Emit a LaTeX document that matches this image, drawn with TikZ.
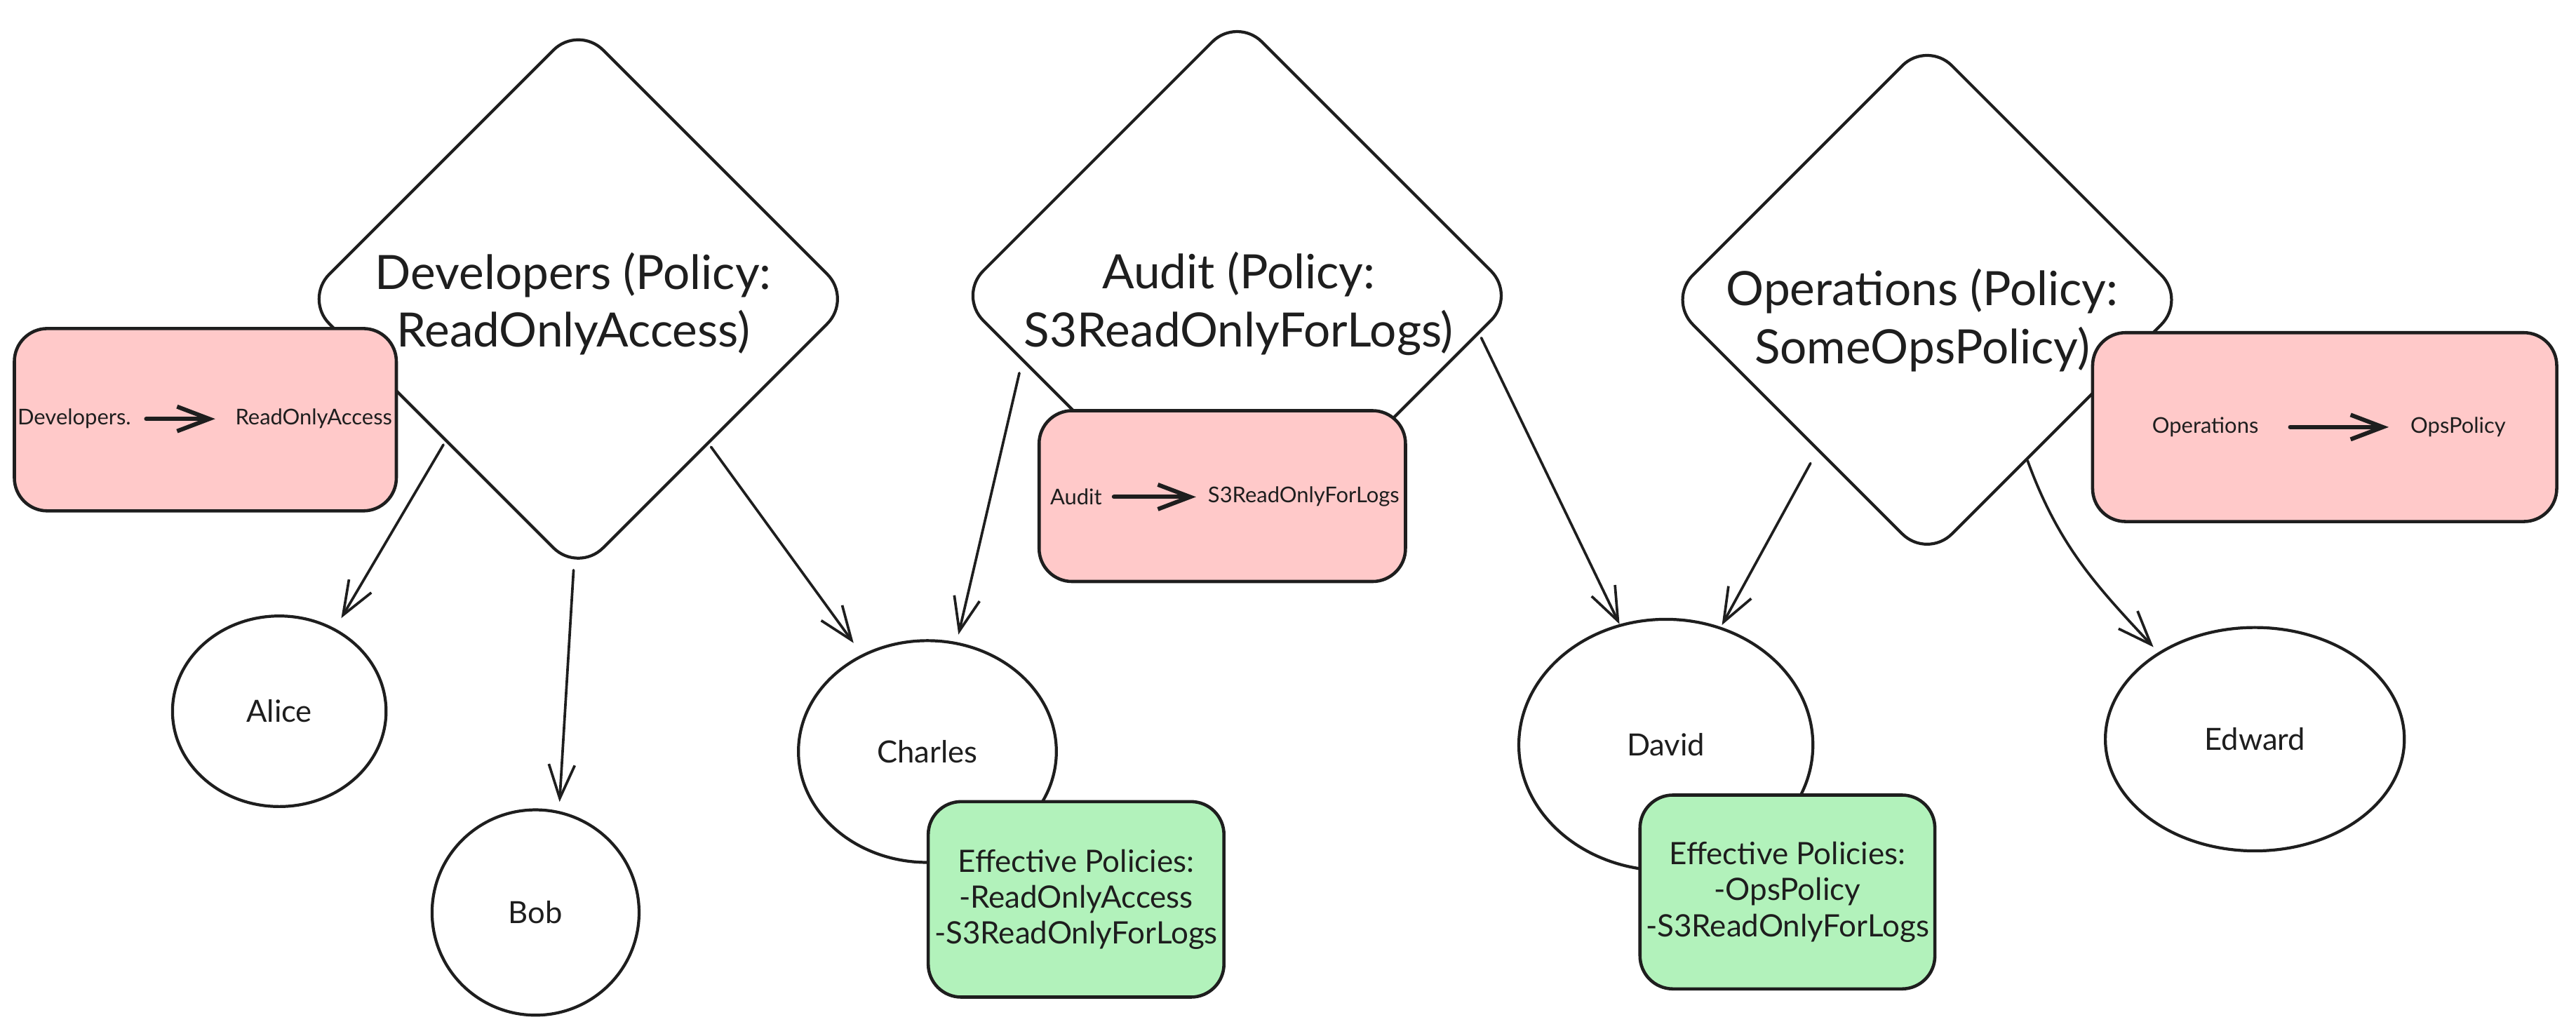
\documentclass[tikz,border=0pt]{standalone}
\usepackage{fontspec}
\setmainfont{Lato}
\usetikzlibrary{shapes.geometric,arrows.meta}
\definecolor{ink}{HTML}{1E1E1E}
\definecolor{pinkfill}{HTML}{FFC9C9}
\definecolor{greenfill}{HTML}{B2F2BB}
\newcommand\uu{0.2342mm}
\begin{document}
\begin{tikzpicture}[x=0.2342mm,y=-0.2342mm,
  grp/.style={diamond, draw=ink, line width=1.2pt, rounded corners=5mm, inner sep=0pt, text=ink},
  grptitle/.style={align=center, inner sep=0pt, text=ink, font=\fontsize{19.2}{23.5}\selectfont},
  user/.style={ellipse, draw=ink, line width=1.2pt, inner sep=0pt, text=ink, font=\fontsize{12.4}{14}\selectfont},
  mapbox/.style={draw=ink, fill=pinkfill, rounded corners=4.7mm, line width=1.3pt, inner sep=0pt},
  maptext/.style={inner sep=0pt, text=ink, font=\fontsize{8.8}{10}\selectfont},
  effbox/.style={draw=ink, fill=greenfill, rounded corners=4.7mm, line width=1.3pt, inner sep=0pt,
    align=center, text=ink, font=\fontsize{12.5}{14.6}\selectfont},
  conn/.style={draw=ink, line width=1.05pt, line cap=round, line join=round,
    -{Straight Barb[length=4.8mm,width=3.7mm,line width=1.05pt]}},
  inarrow/.style={draw=ink, line width=1.7pt, line cap=round, line join=round,
    -{Straight Barb[length=4.6mm,width=3.5mm,line width=1.7pt]}}
]
\fill[white] (0,0) rectangle (1568,626);
\useasboundingbox (0,0) rectangle (1568,626);

% group diamonds
\node[grp, minimum width=334*\uu, minimum height=334*\uu] (dev) at (352,182) {};
\node[grptitle] (devt) at (349,185) {Developers (Policy:\\ReadOnlyAccess)};
\node[grp, minimum width=340*\uu, minimum height=340*\uu] (aud) at (753,180) {};
\node[grptitle] (audt) at (754,185) {Audit (Policy:\\S3ReadOnlyForLogs)};
\node[grp, minimum width=316*\uu, minimum height=316*\uu] (ops) at (1173,182.5) {};
\node[grptitle] (opst) at (1170,195) {Operations (Policy:\\SomeOpsPolicy)};

% users
\node[user, minimum width=130*\uu, minimum height=116*\uu] (alice) at (170,433) {Alice};
\node[user, minimum width=126*\uu, minimum height=125*\uu] (bob) at (326,555.5) {Bob};
\node[user, minimum width=157*\uu, minimum height=135*\uu] (charles) at (564.5,457.5) {Charles};
\node[user, minimum width=179*\uu, minimum height=153*\uu] (david) at (1014,453.5) {David};
\node[user, minimum width=182*\uu, minimum height=136*\uu] (edward) at (1372.5,450) {Edward};

% policy mapping boxes
\node[mapbox, minimum width=232.5*\uu, minimum height=111*\uu] (map1) at (125,255.5) {};
\node[maptext, anchor=east] (m1a) at (80,255) {Developers.};
\node[maptext, anchor=west] (m1b) at (143,255) {ReadOnlyAccess};
\draw[inarrow, shorten <=9*\uu, shorten >=12*\uu] (m1a.east) -- (m1b.west);

\node[mapbox, minimum width=223*\uu, minimum height=104*\uu] (map2) at (744,302) {};
\node[maptext, anchor=east] (m2a) at (671,302.5) {Audit};
\node[maptext, anchor=west] (m2b) at (735,302.5) {S3ReadOnlyForLogs};
\draw[inarrow, shorten <=7*\uu, shorten >=7*\uu] (m2a.east) -- (m2b.west);

\node[mapbox, minimum width=282.5*\uu, minimum height=115*\uu] (map3) at (1415,260) {};
\node[maptext, anchor=east] (m3a) at (1375,260) {Operations};
\node[maptext, anchor=west] (m3b) at (1467,260) {OpsPolicy};
\draw[inarrow, shorten <=19*\uu, shorten >=13*\uu] (m3a.east) -- (m3b.west);

% effective policy boxes
\node[effbox, minimum width=180*\uu, minimum height=119*\uu] (eff1) at (655,547.5)
  {Effective Policies:\\-ReadOnlyAccess\\-S3ReadOnlyForLogs};
\node[effbox, minimum width=179.5*\uu, minimum height=118*\uu] (eff2) at (1088,543)
  {Effective Policies:\\-OpsPolicy\\-S3ReadOnlyForLogs};

% membership connectors
\draw[conn, shorten <=0.5mm, shorten >=1.7mm] (dev.-133.6) -- (alice.56.5);
\draw[conn, shorten >=1.3mm] (dev.-91.4) -- (bob.77.2);
\draw[conn, shorten <=0.5mm, shorten >=2mm] (dev.-48.4) -- (charles.124.1);
\draw[conn, shorten <=1.7mm, shorten >=1.1mm] (aud.197) -- (charles.75.6);
\draw[conn, shorten <=0.6mm] (aud.-9.15) -- (david.111.7);
\draw[conn, shorten <=2mm, shorten >=0.3mm] (ops.-126.8) -- (david.65.7);
\draw[conn, shorten >=1mm] (ops.-58.2) to[out=-70,in=133] (edward.138.2);
\end{tikzpicture}
\end{document}
